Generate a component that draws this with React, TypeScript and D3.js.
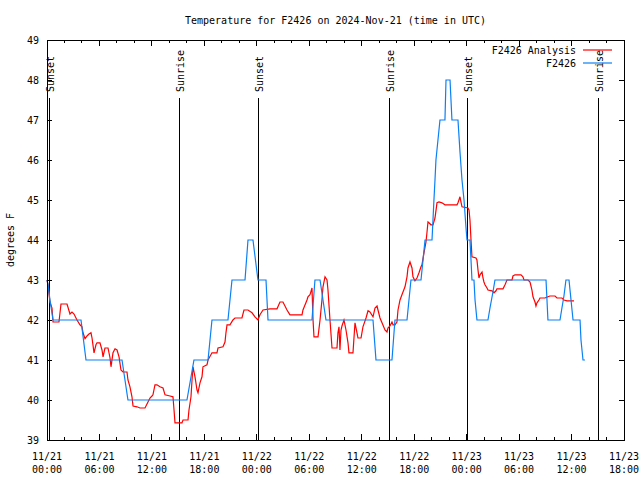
import React from "react";
import * as d3 from "d3";

const START = Date.UTC(2024, 10, 21, 0, 0);
const SPAN_HOURS = 66;
const TITLE = "Temperature for F2426 on 2024-Nov-21 (time in UTC)";
const Y_LABEL = "degrees F";
const Y_DOMAIN: [number, number] = [39, 49];
const seriesNames = ["F2426 Analysis", "F2426"];
const seriesColors = ["#ff0000", "#0a80f5"];

// hours since 2024-11-21 00:00 UTC
const analysisHours = [
  0.0, 0.11, 0.34, 0.57, 0.69, 1.37, 1.6, 2.29, 2.63, 2.86, 3.09, 3.43, 3.77, 4.0, 4.12, 4.35, 4.58, 4.8, 5.03, 5.15,
  5.38, 5.6, 5.72, 6.06, 6.29, 6.41, 6.63, 6.98, 7.21, 7.32, 7.55, 7.78, 8.01, 8.24, 8.46, 8.69, 9.15, 9.26, 9.49, 9.72,
  9.84, 10.29, 10.64, 11.21, 11.55, 11.78, 12.01, 12.12, 12.35, 12.58, 12.92, 13.27, 13.5, 14.07, 14.41, 14.53, 14.64,
  15.44, 15.56, 16.13, 16.24, 16.47, 16.59, 16.7, 16.93, 17.16, 17.27, 17.5, 17.73, 17.84, 18.3, 18.42, 18.87, 19.44,
  19.56, 20.13, 20.36, 20.47, 20.59, 20.93, 21.27, 21.5, 22.3, 22.53, 22.99, 23.45, 23.79, 24.13, 24.36, 24.71, 25.51,
  26.31, 26.65, 26.99, 27.45, 27.79, 29.17, 29.28, 29.74, 29.85, 30.08, 30.31, 30.43, 30.54, 31.0, 31.23, 31.45, 31.57,
  31.8, 32.03, 32.14, 32.37, 32.6, 33.17, 33.28, 33.4, 33.51, 33.63, 33.74, 33.97, 34.2, 34.43, 34.54, 35.0, 35.23,
  35.46, 35.57, 35.92, 36.14, 36.49, 36.72, 36.94, 37.29, 37.52, 37.75, 37.86, 38.09, 38.32, 38.66, 38.89, 39.0, 39.23,
  39.46, 39.58, 39.8, 40.03, 40.15, 40.38, 40.6, 40.72, 40.95, 41.18, 41.29, 41.52, 41.75, 41.86, 42.09, 42.32, 42.55,
  42.78, 42.89, 43.12, 43.35, 43.46, 43.58, 43.69, 43.92, 44.15, 44.38, 44.61, 44.84, 45.18, 45.52, 46.9, 47.01, 47.12,
  47.24, 47.35, 47.47, 48.15, 48.27, 48.38, 48.5, 48.61, 49.07, 49.18, 49.3, 49.41, 49.53, 49.76, 49.87, 49.98, 50.1,
  50.33, 50.44, 50.9, 51.13, 51.36, 51.47, 52.16, 52.39, 52.61, 53.19, 53.3, 53.53, 54.22, 54.44, 54.56, 55.02, 55.25,
  55.47, 55.59, 55.82, 55.93, 56.05, 56.27, 56.39, 56.96, 57.3, 57.53, 58.11, 58.33, 58.9, 59.13, 59.48, 60.28,
];
const analysisTemps = [
  43.0, 42.88, 42.45, 42.3, 41.95, 41.95, 42.4, 42.4, 42.15, 42.2, 42.15, 42.0, 41.88, 41.83, 41.68, 41.53, 41.6, 41.65,
  41.68, 41.55, 41.18, 41.38, 41.43, 41.43, 41.25, 41.08, 41.3, 41.3, 41.05, 40.83, 41.18, 41.28, 41.25, 41.08, 40.75,
  40.7, 40.7, 40.5, 40.33, 40.08, 39.85, 39.83, 39.8, 39.8, 39.95, 40.05, 40.1, 40.13, 40.38, 40.38, 40.33, 40.3, 40.13,
  40.1, 40.08, 39.75, 39.43, 39.43, 39.5, 39.5, 39.75, 40.08, 40.5, 40.83, 40.58, 40.25, 40.18, 40.43, 40.58, 40.83,
  40.88, 41.0, 41.18, 41.18, 41.3, 41.33, 41.45, 41.68, 41.88, 41.88, 42.0, 42.05, 42.05, 42.25, 42.25, 42.18, 42.08,
  42.0, 42.13, 42.25, 42.28, 42.28, 42.45, 42.45, 42.25, 42.13, 42.13, 42.25, 42.5, 42.58, 42.63, 42.8, 42.0, 41.58,
  41.58, 42.0, 42.5, 42.83, 43.08, 43.0, 42.75, 42.0, 41.3, 41.3, 41.68, 41.83, 41.25, 41.75, 41.85, 42.0, 41.75, 41.43,
  41.18, 41.18, 41.93, 41.68, 41.55, 41.55, 41.83, 42.05, 42.23, 42.2, 42.08, 42.3, 42.35, 42.25, 42.05, 41.93, 41.75,
  41.7, 41.8, 41.85, 41.95, 41.88, 41.88, 41.95, 42.25, 42.5, 42.63, 42.7, 42.83, 43.08, 43.3, 43.45, 43.3, 43.08, 42.98,
  43.05, 43.18, 43.33, 43.38, 43.68, 43.95, 44.18, 44.45, 44.43, 44.38, 44.38, 44.55, 44.93, 44.95, 44.93, 44.88, 44.88,
  44.93, 45.0, 45.08, 44.95, 44.83, 44.8, 44.75, 44.5, 44.0, 43.58, 43.55, 43.5, 43.25, 43.05, 43.13, 43.2, 43.05, 42.95,
  42.88, 42.8, 42.75, 42.73, 42.68, 42.73, 42.78, 42.78, 42.88, 43.0, 43.0, 43.1, 43.13, 43.13, 43.08, 43.0, 43.0, 42.95,
  42.75, 42.58, 42.45, 42.35, 42.43, 42.5, 42.55, 42.55, 42.58, 42.6, 42.6, 42.55, 42.55, 42.5, 42.48, 42.48,
];

const obsHours = [
  0.0, 0.11, 0.34, 0.69, 3.89, 4.46, 8.58, 9.26, 16.01, 16.81, 18.42, 18.87, 20.7, 21.16, 22.65, 22.99, 23.56, 24.13,
  25.05, 25.28, 30.31, 30.65, 31.23, 31.91, 37.29, 37.63, 39.46, 39.8, 41.18, 41.63, 42.78, 43.24, 44.04, 44.15, 44.26,
  44.38, 44.49, 44.72, 44.95, 45.52, 45.64, 46.1, 46.32, 47.01, 47.24, 47.47, 47.7, 47.93, 48.04, 48.38, 48.5, 48.61,
  48.84, 48.96, 49.18, 50.44, 50.67, 51.01, 51.24, 57.08, 57.3, 58.68, 58.9, 59.13, 59.36, 59.71, 59.94, 60.17, 60.97,
  61.08, 61.31, 61.54,
];
const obsTemps = [
  43, 42.9, 42.5, 42, 42, 41, 41, 40, 40, 41, 41, 42, 42, 43, 43, 44, 44, 43, 43, 42, 42, 43, 43, 42, 42, 41, 41, 42, 42,
  43, 43, 44, 44, 44.5, 45, 45.5, 46, 46.5, 47, 47, 48, 48, 47, 47, 46.2, 45.5, 45, 44.3, 44, 44, 43.5, 43, 43, 42.5, 42,
  42, 42.3, 42.7, 43, 43, 42, 42, 42.3, 42.6, 43, 43, 42.5, 42, 42, 41.5, 41, 41,
];

const sunEventHours = [0.26, 15.13, 24.17, 39.15, 48.1, 63.06];
const sunEventLabels = ["Sunset", "Sunrise", "Sunset", "Sunrise", "Sunset", "Sunrise"];

const W = 640;
const H = 480;
const M = { left: 47, right: 16, top: 40, bottom: 40 };
const FONT = "'DejaVu Sans Mono', 'Liberation Mono', monospace";

const toDate = (h: number) => new Date(START + h * 3600 * 1000);

export default function App() {
  const x = d3
    .scaleUtc()
    .domain([toDate(0), toDate(SPAN_HOURS)])
    .range([M.left, W - M.right]);
  const y = d3.scaleLinear().domain(Y_DOMAIN).range([H - M.bottom, M.top]);

  const majorTicks = x.ticks(d3.utcHour.every(6) as any);
  const minorTicks = x.ticks(d3.utcHour.every(2) as any);
  const yTicks = d3.range(Y_DOMAIN[0], Y_DOMAIN[1] + 1, 1);
  const fmtDate = d3.utcFormat("%m/%d");
  const fmtTime = d3.utcFormat("%H:%M");

  const analysis = analysisHours.map((h, i) => [h, analysisTemps[i]] as [number, number]);
  const obs = obsHours.map((h, i) => [h, obsTemps[i]] as [number, number]);
  const line = d3
    .line<[number, number]>()
    .x((d) => x(toDate(d[0])))
    .y((d) => y(d[1]));

  const x0 = M.left;
  const x1 = W - M.right;
  const y0 = M.top;
  const y1 = H - M.bottom;

  return (
    <svg
      width={W}
      height={H}
      style={{ position: "absolute", left: 0, top: 0, background: "#fff" }}
      fontFamily={FONT}
      fontSize={10}
    >
      <rect x={0} y={0} width={W} height={H} fill="#fff" />
      <text x={(x0 + x1) / 2} y={24} textAnchor="middle" fill="#000">
        {TITLE}
      </text>
      <text transform={`translate(14,${(y0 + y1) / 2}) rotate(-90)`} textAnchor="middle" fill="#000">
        {Y_LABEL}
      </text>

      {/* y ticks */}
      <g shapeRendering="crispEdges" stroke="#000">
        {yTicks.map((t) => (
          <g key={"y" + t}>
            <line x1={x0} x2={x0 + 5} y1={y(t)} y2={y(t)} />
            <line x1={x1} x2={x1 - 5} y1={y(t)} y2={y(t)} />
          </g>
        ))}
        {minorTicks.map((t, i) => {
          const major = majorTicks.some((m) => m.getTime() === t.getTime());
          const len = major ? 6 : 3;
          return (
            <g key={"x" + i}>
              <line x1={x(t)} x2={x(t)} y1={y1} y2={y1 - len} />
              <line x1={x(t)} x2={x(t)} y1={y0} y2={y0 + len} />
            </g>
          );
        })}
      </g>
      {yTicks.map((t) => (
        <text key={"yl" + t} x={x0 - 8} y={y(t) + 4} textAnchor="end" fill="#000">
          {t}
        </text>
      ))}
      {majorTicks.map((t, i) => (
        <text key={"xl" + i} x={x(t)} y={y1 + 20} textAnchor="middle" fill="#000">
          <tspan x={x(t)}>{fmtDate(t)}</tspan>
          <tspan x={x(t)} dy={13}>
            {fmtTime(t)}
          </tspan>
        </text>
      ))}

      {/* sunrise / sunset */}
      {sunEventHours.map((h, i) => {
        const sx = x(toDate(h));
        return (
          <g key={"sun" + i}>
            <line x1={sx} x2={sx} y1={98} y2={y1} stroke="#000" shapeRendering="crispEdges" />
            <text transform={`translate(${sx + 4.5},92) rotate(-90)`} fill="#000">
              {sunEventLabels[i]}
            </text>
          </g>
        );
      })}

      <path d={line(analysis) || ""} fill="none" stroke={seriesColors[0]} strokeWidth={1.2} />
      <path d={line(obs) || ""} fill="none" stroke={seriesColors[1]} strokeWidth={1.2} />

      {/* legend */}
      {seriesNames.map((name, i) => (
        <g key={"lg" + i}>
          <text x={576} y={54 + i * 13} textAnchor="end" fill="#000">
            {name}
          </text>
          <line x1={583} x2={612} y1={50 + i * 13} y2={50 + i * 13} stroke={seriesColors[i]} strokeWidth={1.2} />
        </g>
      ))}

      <rect x={x0} y={y0} width={x1 - x0} height={y1 - y0} fill="none" stroke="#000" shapeRendering="crispEdges" />
    </svg>
  );
}
